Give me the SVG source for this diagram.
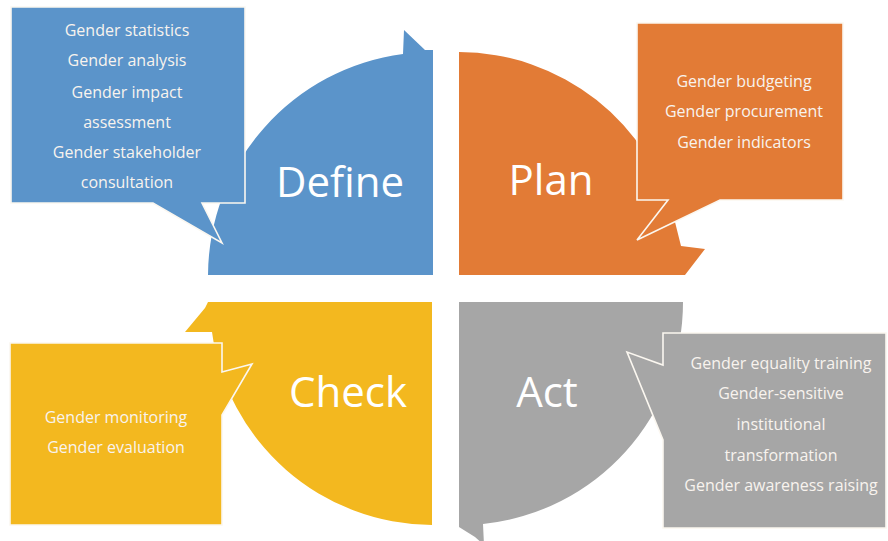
<svg xmlns="http://www.w3.org/2000/svg" width="888" height="541" viewBox="0 0 888 541">
<style>
.q{stroke:none}
.b{stroke:#fbf7f0;stroke-width:1.6;stroke-linejoin:miter}
.big{font-family:"Open Sans","Liberation Sans",sans-serif;font-size:42px;fill:#ffffff;text-anchor:middle}
.sm{font-family:"Open Sans","Liberation Sans",sans-serif;font-size:16px;fill:#f8f3ee;text-anchor:middle}
.blue{fill:#5b94ca}
.orange{fill:#e27b36}
.yellow{fill:#f3b81f}
.gray{fill:#a6a6a6}
</style>
<rect width="888" height="541" fill="#ffffff"/>
<g id="define">
<path class="q blue" d="M433 275 L208 275 A224 224 0 0 1 403 54 L404 30 L425 50 L433 50 Z"/>
<path class="b blue" d="M11 7 H245 V203 H202 L222 243 L153 203 H11 Z"/>
<text class="big" x="340" y="197">Define</text>
<text class="sm" x="127" y="36">Gender statistics</text>
<text class="sm" x="127" y="66">Gender analysis</text>
<text class="sm" x="127" y="98">Gender impact</text>
<text class="sm" x="127" y="128">assessment</text>
<text class="sm" x="127" y="158">Gender stakeholder</text>
<text class="sm" x="127" y="188">consultation</text>
</g>
<g id="plan">
<path class="q orange" d="M459 275 L459 52 A223 223 0 0 1 675 222 L681 246 L705 249 L685 275 Z"/>
<path class="b orange" d="M637 23 H843 V200 H720 L637 240 L668 200 H637 Z"/>
<text class="big" x="551" y="195">Plan</text>
<text class="sm" x="744" y="87">Gender budgeting</text>
<text class="sm" x="744" y="117">Gender procurement</text>
<text class="sm" x="744" y="148">Gender indicators</text>
</g>
<g id="check">
<path class="q yellow" d="M432 302 L432 525 A223 223 0 0 1 212 332 L185 332 L205 308 L208 302 Z"/>
<path class="b yellow" d="M10 343 H222 V372 L252 364 L222 415 V525 H10 Z"/>
<text class="big" x="348" y="407">Check</text>
<text class="sm" x="116" y="423">Gender monitoring</text>
<text class="sm" x="116" y="453">Gender evaluation</text>
</g>
<g id="act">
<path class="q gray" d="M459 302 L683 302 A223 223 0 0 1 483 524 L484 545 L475 537 L459 527 Z"/>
<path class="b gray" d="M663 333 H886 V528 H663 V440 L627 352 L663 365 Z"/>
<text class="big" x="547" y="407">Act</text>
<text class="sm" x="781" y="369">Gender equality training</text>
<text class="sm" x="781" y="399">Gender-sensitive</text>
<text class="sm" x="781" y="430">institutional</text>
<text class="sm" x="781" y="461">transformation</text>
<text class="sm" x="781" y="491">Gender awareness raising</text>
</g>
<g id="connectors"></g>
</svg>
